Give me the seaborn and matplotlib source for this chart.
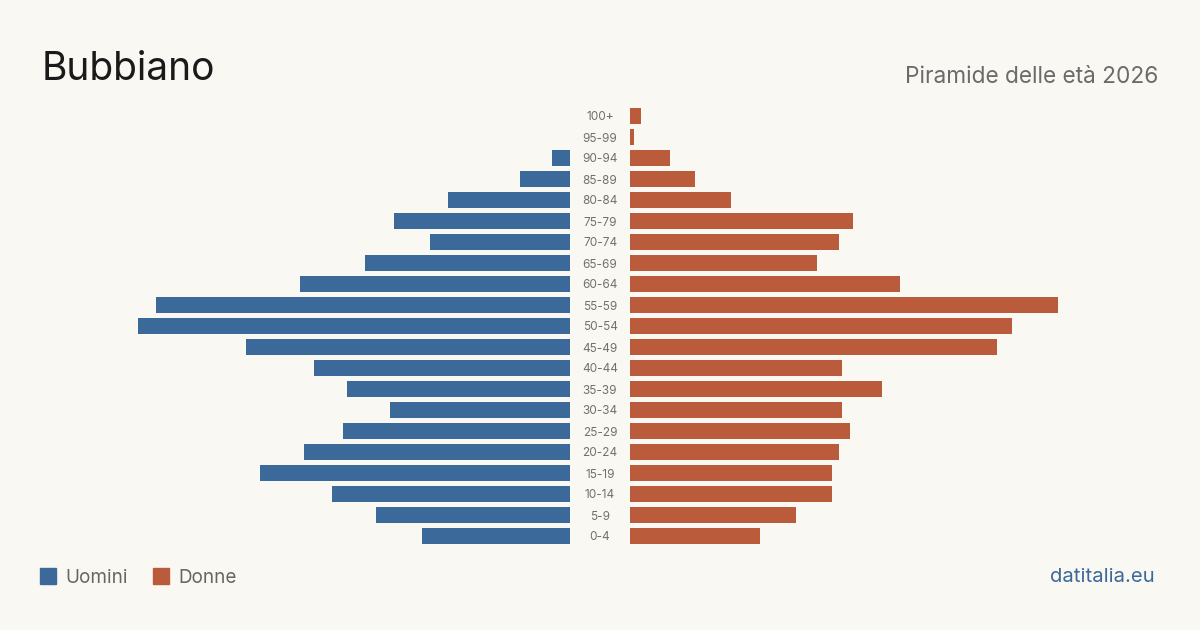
import matplotlib
matplotlib.use("Agg")
import matplotlib.pyplot as plt
import seaborn as sns
import pandas as pd

ages = ["100+", "95-99", "90-94", "85-89", "80-84", "75-79", "70-74", "65-69",
        "60-64", "55-59", "50-54", "45-49", "40-44", "35-39", "30-34", "25-29",
        "20-24", "15-19", "10-14", "5-9", "0-4"]
uomini = [0, 0, 5, 14, 34, 49, 39, 57, 75, 115, 120, 90, 71, 62, 50, 63, 74, 86, 66, 54, 41]
donne = [3, 1, 11, 18, 28, 62, 58, 52, 75, 119, 106, 102, 59, 70, 59, 61, 58, 56, 56, 46, 36]

title = "Bubbiano"
subtitle = "Piramide delle età 2026"
legend_labels = ["Uomini", "Donne"]
source = "datitalia.eu"

BG = "#FAF8F3"
BLUE = "#3B6A9A"
ORANGE = "#BA5B3B"

sns.set_theme(style="white")
plt.rcParams["font.family"] = ["Inter", "DejaVu Sans"]

df = pd.DataFrame({"age": ages, "uomini": uomini, "donne": donne})

W, H = 1200, 630
fig = plt.figure(figsize=(12, 6.3), dpi=100, facecolor=BG)

px_per_unit = 3.6
ax_w_px = 530
xmax = ax_w_px / px_per_unit
bottom = 1 - 546.5 / H
height = 441 / H

axL = fig.add_axes([40 / W, bottom, ax_w_px / W, height])
axR = fig.add_axes([630 / W, bottom, ax_w_px / W, height])

sns.barplot(data=df, y="age", x="uomini", order=ages, color=BLUE, width=0.8,
            orient="h", ax=axL, saturation=1, linewidth=0)
sns.barplot(data=df, y="age", x="donne", order=ages, color=ORANGE, width=0.8,
            orient="h", ax=axR, saturation=1, linewidth=0)

for ax in (axL, axR):
    ax.set_facecolor("none")
    ax.set_ylim(len(ages) - 0.5, -0.5)
    ax.set_xlim(0, xmax)
    ax.set_xlabel("")
    ax.set_ylabel("")
    ax.set_xticks([])
    for s in ax.spines.values():
        s.set_visible(False)
axL.invert_xaxis()
axL.set_yticks([])

axR.set_yticks(range(len(ages)))
axR.set_yticklabels(ages, ha="center", fontsize=8.5, color="#707070")
axR.tick_params(axis="y", length=0, pad=30 * 72 / 100)

fig.text(42 / W, 1 - 79.5 / H, title, fontsize=28, color="#1a1a1a",
         ha="left", va="baseline")
fig.text(1158 / W, 1 - 83.3 / H, subtitle, fontsize=16.3, color="#6b6b6b",
         ha="right", va="baseline")

# legend
for x0, lab, col in [(40, legend_labels[0], BLUE), (153, legend_labels[1], ORANGE)]:
    fig.patches.append(plt.Rectangle((x0 / W, 1 - 583.7 / H), 15.5 / W, 15.5 / H,
                                     transform=fig.transFigure, color=col, figure=fig))
    fig.text((x0 + 25) / W, 1 - 583.3 / H, lab, fontsize=13.6, color="#666666",
             ha="left", va="baseline")

fig.text(1155 / W, 1 - 582.5 / H, source, fontsize=14.6, color=BLUE,
         ha="right", va="baseline")

fig.savefig("out.png", dpi=100, facecolor=BG)
